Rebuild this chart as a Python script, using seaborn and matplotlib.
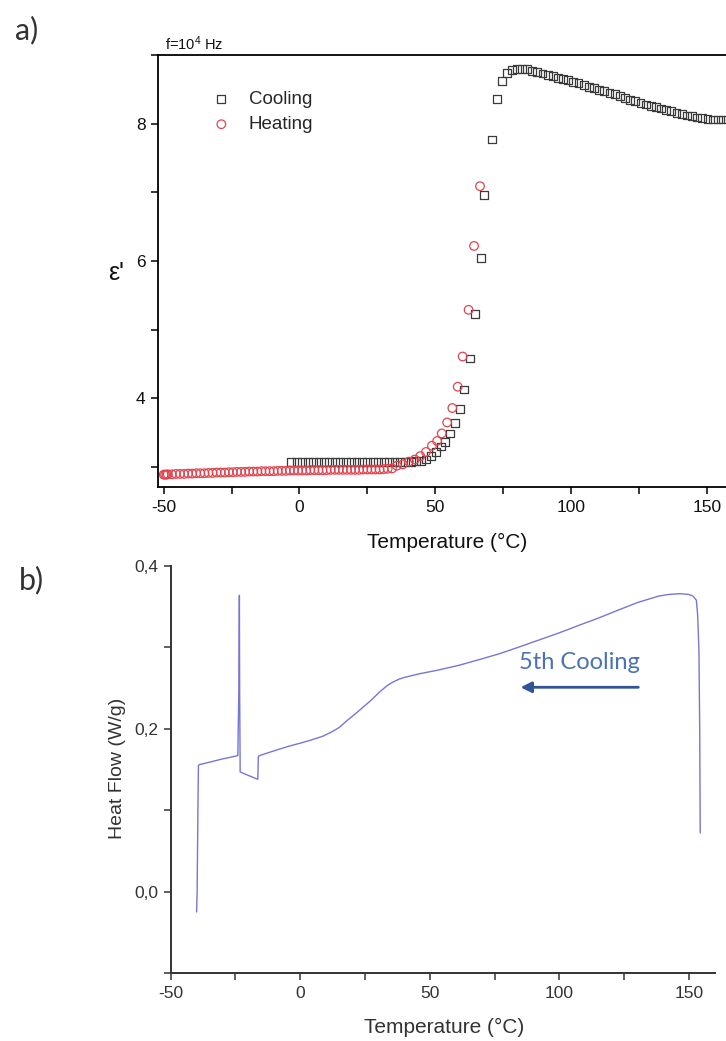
import numpy as np
import pandas as pd
import matplotlib
matplotlib.use("Agg")
import matplotlib.pyplot as plt
import seaborn as sns
from matplotlib.ticker import FixedLocator

# ---------------- data ----------------
# panel a: dielectric constant vs temperature (f = 10^4 Hz)
cool_T = [-3.0, -1.0, 1.0, 3.0, 5.0, 7.0, 9.0, 11.0, 13.0, 15.0, 17.0, 19.0, 21.0, 23.0,
          25.0, 27.0, 29.0, 31.0, 33.0, 35.0, 37.0, 39.0, 41.0, 43.0,
          44.8, 46.6, 48.4, 50.3, 52.1, 53.7, 55.3, 57.2, 59.1, 60.6, 62.8, 64.8, 66.9,
          68.1, 71.0, 72.9, 74.7, 76.5, 78.3, 80.1, 81.9,
          83.8, 85.7, 87.6, 89.5, 91.4, 93.3, 95.2, 97.1, 99.0, 100.9, 102.8, 104.7,
          106.6, 108.5, 110.4, 112.3, 114.2, 116.1, 118.0, 119.9, 121.8, 123.7, 125.6,
          127.5, 129.4, 131.3, 133.2, 135.1, 137.0, 138.9, 140.8, 142.7, 144.6, 146.5,
          148.4, 150.3, 152.2, 154.1, 156.0, 157.9, 159.8]
cool_eps = [3.07, 3.07, 3.07, 3.07, 3.07, 3.07, 3.075, 3.075, 3.075, 3.075, 3.075, 3.075,
            3.075, 3.075, 3.08, 3.08, 3.08, 3.08, 3.08, 3.08, 3.08, 3.08, 3.08, 3.085,
            3.09, 3.11, 3.16, 3.22, 3.30, 3.37, 3.49, 3.64, 3.84, 4.13, 4.58, 5.23, 6.05,
            6.96, 7.77, 8.36, 8.62, 8.74, 8.78, 8.80, 8.80,
            8.79, 8.77, 8.75, 8.73, 8.71, 8.69, 8.67, 8.65, 8.63, 8.61, 8.59, 8.56,
            8.54, 8.52, 8.49, 8.47, 8.45, 8.43, 8.40, 8.38, 8.35, 8.33, 8.30,
            8.28, 8.26, 8.24, 8.22, 8.20, 8.18, 8.16, 8.14, 8.12, 8.11, 8.09,
            8.08, 8.07, 8.06, 8.06, 8.06, 8.06, 8.06]

heat_T = [-50.0, -49.5, -49.0, -48.5, -47.0, -45.5, -44.0, -42.5, -41.0, -39.5, -38.0,
          -36.5, -35.0, -33.5, -32.0, -30.5, -29.0, -27.5, -26.0, -24.5, -23.0, -21.5,
          -20.0, -18.5, -17.0, -15.5, -14.0, -12.5, -11.0, -9.5, -8.0, -6.5, -5.0, -3.5,
          -2.0, -0.5, 1.0, 2.5, 4.0, 5.5, 7.0, 8.5, 10.0, 11.5, 13.0, 14.5, 16.0, 17.5,
          19.0, 20.5, 22.0, 23.5, 25.0, 26.5, 28.0, 29.5, 31.0, 32.5,
          34.1, 35.9, 38.1, 40.3, 42.5, 44.5, 46.6, 48.8, 50.7, 52.4, 54.4, 56.3, 58.3,
          60.1, 62.3, 64.3, 66.5]
heat_eps = [2.89, 2.89, 2.89, 2.895, 2.895, 2.90, 2.90, 2.90, 2.905, 2.905, 2.91,
            2.91, 2.91, 2.915, 2.915, 2.92, 2.92, 2.92, 2.925, 2.925, 2.93, 2.93,
            2.93, 2.935, 2.935, 2.935, 2.94, 2.94, 2.94, 2.94, 2.945, 2.945, 2.945, 2.95,
            2.95, 2.95, 2.95, 2.95, 2.955, 2.955, 2.955, 2.955, 2.955, 2.96, 2.96, 2.96,
            2.96, 2.96, 2.96, 2.96, 2.96, 2.965, 2.965, 2.965, 2.965, 2.965, 2.97, 2.975,
            2.98, 3.02, 3.04, 3.08, 3.11, 3.16, 3.22, 3.31, 3.38, 3.49, 3.65, 3.86, 4.17,
            4.61, 5.29, 6.22, 7.09]

# panel b: DSC, 5th cooling (in time order, from hot to cold)
dsc_T = [154.3, 154.1, 153.8, 153.3, 152.8, 151.5, 150.0, 146.6, 142.0, 138.2, 130.0,
         122.8, 115.0, 107.4, 100.0, 92.0, 84.0, 76.6, 69.0, 61.2, 53.0, 45.8, 40.0,
         38.1, 35.5, 33.5, 30.5, 27.3, 24.0, 21.1, 18.0, 15.0, 12.0, 8.8, 4.0, -0.4,
         -4.0, -8.1, -12.0, -15.8, -16.2, -16.3, -16.4, -19.5, -23.2, -23.4, -23.5,
         -23.7, -24.1, -30.0, -35.0, -38.9, -39.3, -39.5, -39.8, -40.0]
dsc_HF = [0.072, 0.20, 0.296, 0.340, 0.358, 0.363, 0.365, 0.366, 0.365, 0.363, 0.355,
          0.346, 0.336, 0.327, 0.318, 0.309, 0.300, 0.292, 0.285, 0.278, 0.272, 0.2675,
          0.263, 0.261, 0.257, 0.253, 0.245, 0.235, 0.226, 0.218, 0.210, 0.2016, 0.196,
          0.191, 0.186, 0.182, 0.179, 0.175, 0.171, 0.167, 0.166, 0.150, 0.138, 0.142,
          0.147, 0.25, 0.364, 0.25, 0.167, 0.163, 0.159, 0.156, 0.155, 0.10, 0.0,
          -0.025]

a_xticks = [-50, 0, 50, 100, 150]
a_xminor = [-25, 25, 75, 125]
a_yticks = [4, 6, 8]
a_yminor = [3, 5, 7, 9]
b_xticks = [-50, 0, 50, 100, 150]
b_xminor = [-25, 25, 75, 125]
b_yticks = [0.0, 0.2, 0.4]
b_yticklabels = ["0,0", "0,2", "0,4"]
b_yminor = [-0.1, 0.1, 0.3]

cool_df = pd.DataFrame({"T": cool_T, "eps": cool_eps})
heat_df = pd.DataFrame({"T": heat_T, "eps": heat_eps})
dsc_df = pd.DataFrame({"T": dsc_T, "HF": dsc_HF})

# ---------------- style ----------------
sns.set_theme(style="ticks")
plt.rcParams["font.family"] = ["Liberation Sans", "DejaVu Sans"]
plt.rcParams["mathtext.fontset"] = "custom"
plt.rcParams["mathtext.rm"] = "Liberation Sans"
plt.rcParams["mathtext.it"] = "Liberation Sans:italic"

W, H = 726, 1041
fig = plt.figure(figsize=(W / 100, H / 100), dpi=100)

def fx(px):
    return px / W

def fy(py):
    return 1 - py / H

# ---------------- panel a ----------------
ax_a = fig.add_axes([fx(158), fy(487), (761 - 158) / W, (487 - 55) / H])
sns.scatterplot(data=cool_df, x="T", y="eps", ax=ax_a, marker="s", s=32,
                facecolor="none", edgecolor="#3a3a3a", linewidth=0.9, label="Cooling")
sns.scatterplot(data=heat_df, x="T", y="eps", ax=ax_a, marker="o", s=38,
                facecolor="none", edgecolor="#e0454f", linewidth=0.9, label="Heating")
ax_a.set_xlim(-52.1, 170)
ax_a.set_ylim(2.71, 9.0)
ax_a.xaxis.set_major_locator(FixedLocator(a_xticks))
ax_a.xaxis.set_minor_locator(FixedLocator(a_xminor))
ax_a.yaxis.set_major_locator(FixedLocator(a_yticks))
ax_a.yaxis.set_minor_locator(FixedLocator(a_yminor))
ax_a.set_xticklabels([str(t) for t in a_xticks])
ax_a.set_yticklabels([str(t) for t in a_yticks])
ax_a.tick_params(which="both", direction="out", length=5, width=1.1, color="black",
                 labelsize=12.5, pad=4, labelcolor="#111111")
for side in ["left", "bottom", "top", "right"]:
    ax_a.spines[side].set_visible(True)
    ax_a.spines[side].set_linewidth(1.3)
    ax_a.spines[side].set_color("black")
ax_a.set_xlabel("Temperature (°C)", fontsize=15, color="#111111")
ax_a.xaxis.set_label_coords(fx(447), fy(542), transform=fig.transFigure)
ax_a.xaxis.label.set_va("center")
ax_a.set_ylabel("ε'", fontsize=18, rotation=0, color="#111111")
ax_a.yaxis.set_label_coords(fx(116), fy(273), transform=fig.transFigure)
ax_a.yaxis.label.set_va("center")
ax_a.yaxis.label.set_ha("center")
leg = ax_a.legend(loc="upper left", bbox_to_anchor=(fx(212), fy(91)),
                  bbox_transform=fig.transFigure, frameon=False, fontsize=13.5,
                  handlelength=1.0, handletextpad=0.95, labelspacing=0.42,
                  borderpad=0, borderaxespad=0, scatterpoints=1)
fig.text(fx(165), fy(50), r"f=10$^{\mathregular{4}}$ Hz", fontsize=10.5, va="baseline",
         ha="left", color="#111111")

# ---------------- panel b ----------------
ax_b = fig.add_axes([fx(170.7), fy(973), (715 - 170.7) / W, (973 - 566) / H])
sns.lineplot(data=dsc_df, x="T", y="HF", ax=ax_b, sort=False, estimator=None,
             color="#7676d6", linewidth=1.0)
ax_b.set_xlim(-50, 160)
ax_b.set_ylim(-0.1, 0.4)
ax_b.xaxis.set_major_locator(FixedLocator(b_xticks))
ax_b.xaxis.set_minor_locator(FixedLocator(b_xminor))
ax_b.yaxis.set_major_locator(FixedLocator(b_yticks))
ax_b.yaxis.set_minor_locator(FixedLocator(b_yminor))
ax_b.set_xticklabels([str(t) for t in b_xticks])
ax_b.set_yticklabels(b_yticklabels)
ax_b.tick_params(which="both", direction="out", length=5, width=1.1, color="#333333",
                 labelsize=12.5, pad=4, labelcolor="#333333")
ax_b.spines["top"].set_visible(False)
ax_b.spines["right"].set_visible(False)
for side in ["left", "bottom"]:
    ax_b.spines[side].set_linewidth(1.4)
    ax_b.spines[side].set_color("#333333")
ax_b.set_xlabel("Temperature (°C)", fontsize=15, color="#333333")
ax_b.xaxis.set_label_coords(fx(444), fy(1027), transform=fig.transFigure)
ax_b.xaxis.label.set_va("center")
ax_b.set_ylabel("Heat Flow (W/g)", fontsize=14, color="#333333")
ax_b.yaxis.set_label_coords(fx(117), fy(768), transform=fig.transFigure)
ax_b.yaxis.label.set_va("center")
ax_b.annotate("", xy=(85.0, 0.251), xytext=(130.4, 0.251),
              arrowprops=dict(arrowstyle="-|>", color="#2f5597", lw=2.0,
                              mutation_scale=16, shrinkA=0, shrinkB=0))
ax_b.text(107.8, 0.281, "5th Cooling", fontsize=17, color="#4a72b5", ha="center",
          va="center", family=["Lato", "DejaVu Sans"])

# panel letters
fig.text(fx(27), fy(30), "a)", fontsize=22, color="#333333", ha="center", va="center",
         family=["Lato", "DejaVu Sans"])
fig.text(fx(31), fy(580), "b)", fontsize=22, color="#333333", ha="center", va="center",
         family=["Lato", "DejaVu Sans"])

fig.savefig("out.png", dpi=100)
